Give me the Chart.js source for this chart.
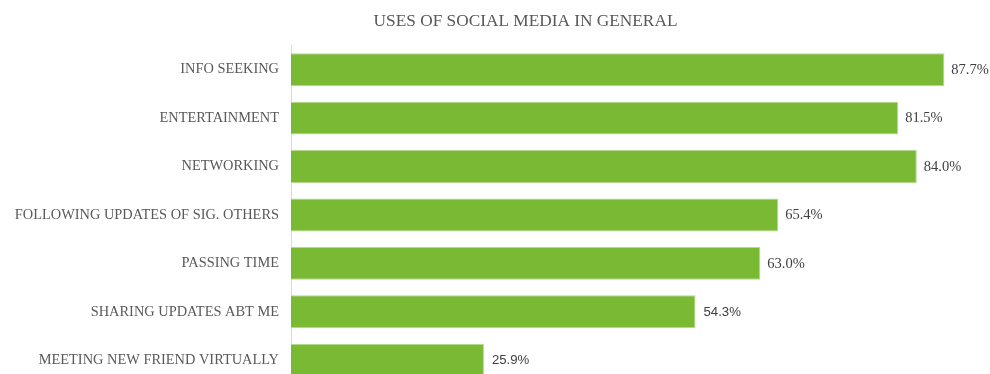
<!DOCTYPE html>
<html>
<head>
<meta charset="utf-8">
<script src="https://cdn.jsdelivr.net/npm/chart.js@4/dist/chart.umd.min.js"></script>
<style>
  html, body { margin: 0; padding: 0; background: #ffffff; overflow: hidden; }
  #wrap { width: 990px; height: 374px; overflow: hidden; position: relative; }
  canvas { display: block; }
</style>
</head>
<body>
<div id="wrap"><canvas id="c" width="1051" height="405"></canvas></div>
<script>
const chartTitle = 'USES OF SOCIAL MEDIA IN GENERAL';
const categories = [
  'INFO SEEKING',
  'ENTERTAINMENT',
  'NETWORKING',
  'FOLLOWING UPDATES OF SIG. OTHERS',
  'PASSING TIME',
  'SHARING UPDATES ABT ME',
  'MEETING NEW FRIEND VIRTUALLY'
];
const values = [87.7, 81.5, 84.0, 65.4, 63.0, 54.3, 25.9];
const valueLabels = ['87.7%', '81.5%', '84.0%', '65.4%', '63.0%', '54.3%', '25.9%'];
// the last two value labels are rendered in a sans face in the original
const sansLabel = [false, false, false, false, false, true, true];

const SERIF = '"Liberation Serif", "Times New Roman", serif';
const SANS = '"Liberation Sans", Arial, sans-serif';

const titlePlugin = {
  id: 'centeredTitle',
  afterDraw(chart) {
    const ctx = chart.ctx;
    ctx.save();
    ctx.font = '17.3px ' + SERIF;
    ctx.fillStyle = '#595959';
    ctx.textAlign = 'center';
    ctx.textBaseline = 'alphabetic';
    ctx.fillText(chartTitle, chart.width / 2, 26);
    ctx.restore();
  }
};

const valueLabelPlugin = {
  id: 'valueLabels',
  afterDatasetsDraw(chart) {
    const ctx = chart.ctx;
    const meta = chart.getDatasetMeta(0);
    ctx.save();
    ctx.textBaseline = 'middle';
    ctx.textAlign = 'left';
    ctx.fillStyle = '#404040';
    meta.data.forEach((bar, i) => {
      if (sansLabel[i]) {
        ctx.font = '13.2px ' + SANS;
        ctx.fillText(valueLabels[i], bar.x + 8, bar.y + 0.5);
      } else {
        ctx.font = '14.5px ' + SERIF;
        ctx.fillText(valueLabels[i], bar.x + 7, bar.y + 0.5);
      }
    });
    ctx.restore();
  }
};

new Chart(document.getElementById('c'), {
  type: 'bar',
  data: {
    labels: categories,
    datasets: [{
      data: values,
      backgroundColor: '#7ab934',
      borderColor: '#b5d98f',
      borderWidth: 1,
      borderSkipped: 'start',
      barPercentage: 0.68,
      categoryPercentage: 1.0
    }]
  },
  options: {
    indexAxis: 'y',
    responsive: false,
    devicePixelRatio: 1,
    animation: false,
    layout: { padding: { left: 0, right: 15, top: 45.5, bottom: 0 } },
    plugins: {
      legend: { display: false },
      tooltip: { enabled: false },
      title: { display: false }
    },
    scales: {
      x: {
        display: false,
        min: 0,
        max: 100
      },
      y: {
        afterFit(scale) { scale.width = 291; },
        grid: { display: false, drawTicks: false },
        border: { display: true, color: '#d9d9d9', width: 1 },
        ticks: {
          color: '#595959',
          padding: 12,
          font: { family: SERIF, size: 14.4 }
        }
      }
    }
  },
  plugins: [valueLabelPlugin, titlePlugin]
});
</script>
</body>
</html>
